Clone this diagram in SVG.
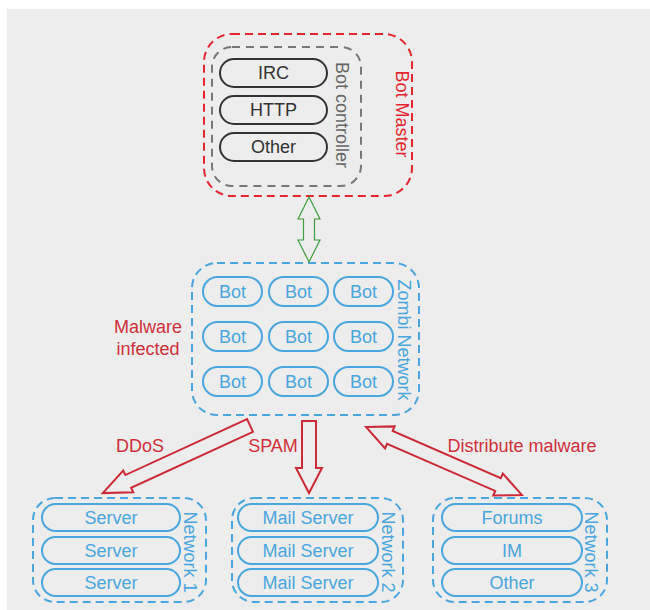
<svg xmlns="http://www.w3.org/2000/svg" width="650" height="610" viewBox="0 0 650 610">
<style>
text{font-family:"Liberation Sans",Arial,sans-serif;font-size:18px;text-anchor:middle;dominant-baseline:central}
.red{fill:#d0303a}
.blue{fill:#4aa6de}
.bpill{fill:none;stroke:#4aa6de;stroke-width:2}
.bbox{fill:none;stroke:#4aa6de;stroke-width:2;stroke-dasharray:8 5}
.dpill{fill:none;stroke:#333;stroke-width:2}
.arr{fill:none;stroke:#cc2a36;stroke-width:2;stroke-linejoin:miter}
</style>
<rect x="7" y="9" width="643" height="601" fill="#ededed"/>

<g id="bot-master">
<rect x="204" y="34" width="208" height="162" rx="28" fill="none" stroke="#e5252f" stroke-width="2" stroke-dasharray="8 5"/>
<text class="red" transform="translate(402,114) rotate(90)" style="fill:#e5252f">Bot Master</text>
</g>
<g id="bot-controller">
<rect x="212" y="47" width="149" height="139" rx="20" fill="none" stroke="#777" stroke-width="2" stroke-dasharray="8 6"/>
<text transform="translate(342,115) rotate(90)" fill="#666">Bot controller</text>
</g>
<g id="irc"><rect class="dpill" x="220" y="59" width="107" height="28" rx="14"/><text x="273.5" y="73" fill="#333">IRC</text></g>
<g id="http"><rect class="dpill" x="220" y="96" width="107" height="28" rx="14"/><text x="273.5" y="110" fill="#333">HTTP</text></g>
<g id="other-c"><rect class="dpill" x="220" y="133" width="107" height="28" rx="14"/><text x="273.5" y="147" fill="#333">Other</text></g>

<g id="zombi-network">
<rect class="bbox" x="192" y="263" width="227" height="152" rx="25"/>
<text class="blue" transform="translate(404,340) rotate(90)">Zombi Network</text>
</g>
<g id="bots">
<g id="bot1"><rect class="bpill" x="203" y="277" width="59" height="29" rx="14.5"/><text class="blue" x="232.5" y="291.5">Bot</text></g>
<g id="bot2"><rect class="bpill" x="269" y="277" width="59" height="29" rx="14.5"/><text class="blue" x="298.5" y="291.5">Bot</text></g>
<g id="bot3"><rect class="bpill" x="334" y="277" width="59" height="29" rx="14.5"/><text class="blue" x="363.5" y="291.5">Bot</text></g>
<g id="bot4"><rect class="bpill" x="203" y="322" width="59" height="29" rx="14.5"/><text class="blue" x="232.5" y="336.5">Bot</text></g>
<g id="bot5"><rect class="bpill" x="269" y="322" width="59" height="29" rx="14.5"/><text class="blue" x="298.5" y="336.5">Bot</text></g>
<g id="bot6"><rect class="bpill" x="334" y="322" width="59" height="29" rx="14.5"/><text class="blue" x="363.5" y="336.5">Bot</text></g>
<g id="bot7"><rect class="bpill" x="203" y="367" width="59" height="29" rx="14.5"/><text class="blue" x="232.5" y="381.5">Bot</text></g>
<g id="bot8"><rect class="bpill" x="269" y="367" width="59" height="29" rx="14.5"/><text class="blue" x="298.5" y="381.5">Bot</text></g>
<g id="bot9"><rect class="bpill" x="334" y="367" width="59" height="29" rx="14.5"/><text class="blue" x="363.5" y="381.5">Bot</text></g>
</g>

<g id="malware-infected">
<text class="red" x="148" y="327">Malware</text>
<text class="red" x="148" y="349">infected</text>
</g>

<g id="network1">
<rect class="bbox" x="33" y="498" width="173" height="104" rx="22"/>
<text class="blue" transform="translate(190,552) rotate(90)">Network 1</text>
<g id="server1"><rect class="bpill" x="42" y="504" width="138" height="27" rx="13.5"/><text class="blue" x="111" y="517.5">Server</text></g>
<g id="server2"><rect class="bpill" x="42" y="537" width="138" height="27" rx="13.5"/><text class="blue" x="111" y="550.5">Server</text></g>
<g id="server3"><rect class="bpill" x="42" y="569" width="138" height="27" rx="13.5"/><text class="blue" x="111" y="582.5">Server</text></g>
</g>
<g id="network2">
<rect class="bbox" x="232" y="498" width="171" height="104" rx="22"/>
<text class="blue" transform="translate(388,552) rotate(90)">Network 2</text>
<g id="mail1"><rect class="bpill" x="238" y="504" width="140" height="27" rx="13.5"/><text class="blue" x="308" y="517.5">Mail Server</text></g>
<g id="mail2"><rect class="bpill" x="238" y="537" width="140" height="27" rx="13.5"/><text class="blue" x="308" y="550.5">Mail Server</text></g>
<g id="mail3"><rect class="bpill" x="238" y="569" width="140" height="27" rx="13.5"/><text class="blue" x="308" y="582.5">Mail Server</text></g>
</g>
<g id="network3">
<rect class="bbox" x="433" y="498" width="174" height="104" rx="22"/>
<text class="blue" transform="translate(591,552) rotate(90)">Network 3</text>
<g id="forums"><rect class="bpill" x="442" y="504" width="140" height="27" rx="13.5"/><text class="blue" x="512" y="517.5">Forums</text></g>
<g id="im"><rect class="bpill" x="442" y="537" width="140" height="27" rx="13.5"/><text class="blue" x="512" y="550.5">IM</text></g>
<g id="other-n"><rect class="bpill" x="442" y="569" width="140" height="27" rx="13.5"/><text class="blue" x="512" y="582.5">Other</text></g>
</g>

<g id="connectors">
<path d="M309,197 L320,219 L314.5,219 L314.5,240 L320,240 L309,262 L298,240 L303.5,240 L303.5,219 L298,219 Z" fill="none" stroke="#3f9e3f" stroke-width="1.2" stroke-linejoin="miter"/>
<path class="arr" transform="translate(250,425.5) rotate(155.34)" d="M0,-7 L134,-7 L134,-12 L162,0 L134,12 L134,7 L0,7 Z"/>
<path class="arr" transform="translate(309,421) rotate(90)" d="M0,-7 L47,-7 L47,-13 L72,0 L47,13 L47,7 L0,7 Z"/>
<path class="arr" transform="translate(366,427) rotate(23.55)" d="M0,0 L26,-12 L26,-7 L144,-7 L144,-12 L170,0 L144,12 L144,7 L26,7 L26,12 Z"/>
<text class="red" x="140" y="446">DDoS</text>
<text class="red" x="273" y="446">SPAM</text>
<text class="red" x="522" y="446">Distribute malware</text>
</g>
</svg>
